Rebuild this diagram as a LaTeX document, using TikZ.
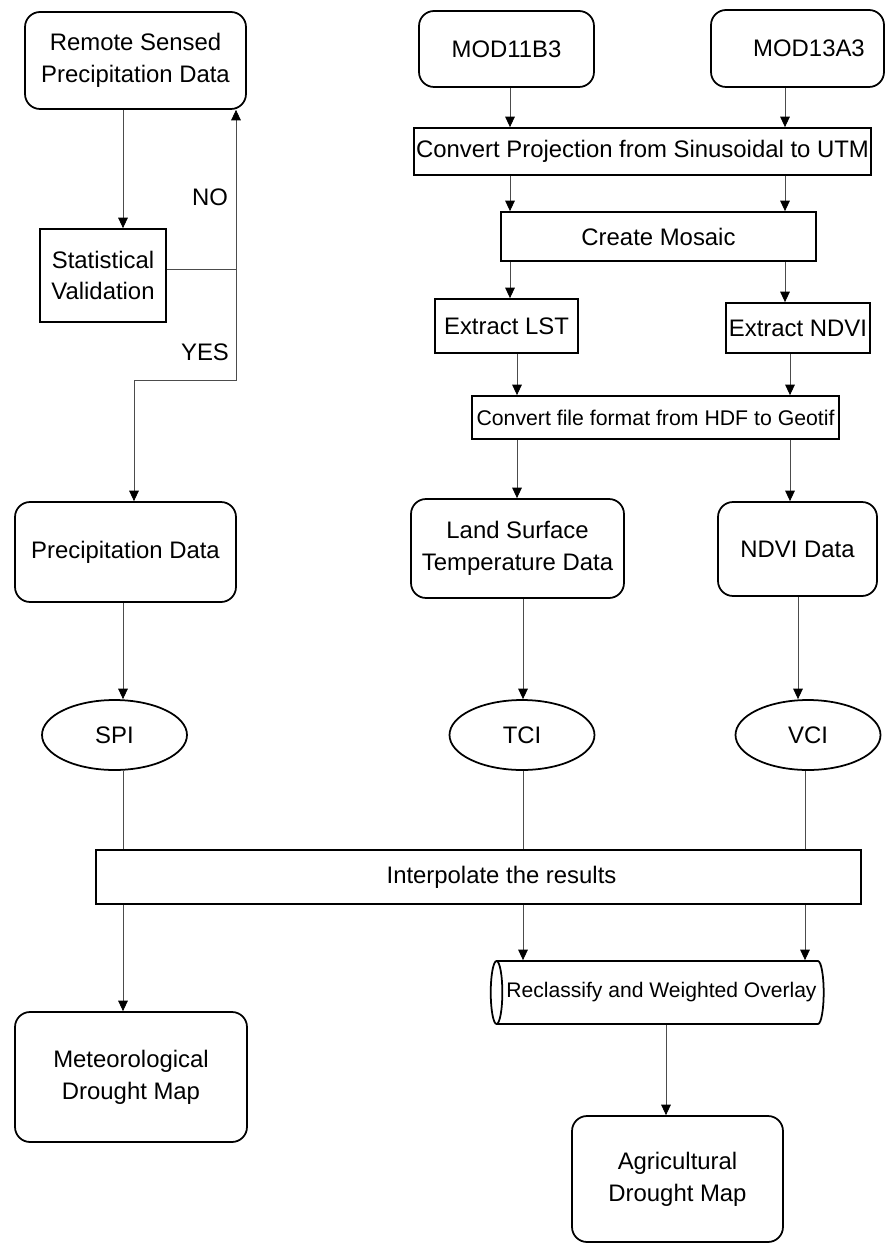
\documentclass[tikz,border=0pt]{standalone}
\usepackage{fontspec}
\setmainfont{Liberation Sans}
\usetikzlibrary{shapes.geometric,arrows.meta}

\begin{document}
\begin{tikzpicture}[x=0.02cm,y=-0.02cm,
    every node/.style={font=\fontsize{13.6}{18}\selectfont, align=center},
    box/.style={draw, line width=1pt, inner sep=1pt},
    rbox/.style={box, rounded corners=0.3cm},
    oval/.style={draw, line width=1pt, ellipse, minimum width=2.9cm, minimum height=1.4cm},
    line/.style={draw=black!70, line width=0.5pt},
    arrow/.style={line, -{Triangle[length=6pt,width=5.5pt,color=black]}}]
    \useasboundingbox (0,0) rectangle (885,1243);
    % Left branch
    \node[rbox, minimum width=4.42cm, minimum height=1.94cm] (remote) at (135.5,60.5) {Remote Sensed\\Precipitation Data};
    \node[box, minimum width=2.52cm, minimum height=1.86cm] (stat) at (103,275.5) {Statistical\\Validation};
    \node[rbox, minimum width=4.42cm, minimum height=2cm] (precip) at (125.5,552) {Precipitation Data};
    \node (no) at (210,197) {NO};
    \node (yes) at (205,352) {YES};
    % MODIS branch
    \node[rbox, minimum width=3.5cm, minimum height=1.52cm] (mod11) at (506.5,49) {MOD11B3};
    \node[rbox, minimum width=3.46cm, minimum height=1.54cm] (mod13) at (797.5,48.5) {\hspace*{0.46cm}MOD13A3};
    \node[box, minimum width=9.14cm, minimum height=0.94cm] (proj) at (642.5,151.5) {Convert Projection from Sinusoidal to UTM};
    \node[box, minimum width=6.3cm, minimum height=0.98cm] (mosaic) at (658.5,236.5) {Create Mosaic};
    \node[box, minimum width=2.86cm, minimum height=1.08cm] (lst) at (506.5,326) {Extract LST};
    \node[box, minimum width=2.88cm, minimum height=1cm] (ndvi) at (798,328) {Extract NDVI};
    \node[box, minimum width=7.34cm, minimum height=0.86cm, font=\fontsize{12.1}{15}\selectfont] (hdf) at (655.5,417.5) {Convert file format from HDF to Geotif};
    \node[rbox, minimum width=4.26cm, minimum height=1.98cm] (landsurf) at (517.5,548.5) {Land Surface\\Temperature Data};
    \node[rbox, minimum width=3.18cm, minimum height=1.88cm] (ndvidata) at (797.5,549) {NDVI Data};
    % Indices
    \node[oval] (spi) at (114.5,735) {SPI};
    \node[oval] (tci) at (522,735) {TCI};
    \node[oval] (vci) at (808,735) {VCI};
    % Results
    \node[box, minimum width=15.3cm, minimum height=1.08cm] (interp) at (478.5,877) {\hspace*{0.92cm}Interpolate the results};
    \node[draw, line width=1pt, cylinder, shape border rotate=180, shape aspect=0.5, minimum width=1.26cm, minimum height=6.66cm, inner sep=1pt, font=\fontsize{12}{15}\selectfont] (reclass) at (661.5,992.5) {Reclassify and Weighted Overlay};
    \node[rbox, minimum width=4.64cm, minimum height=2.6cm] (meteo) at (131,1077) {Meteorological\\Drought Map};
    \node[rbox, minimum width=4.22cm, minimum height=2.52cm] (agri) at (677.5,1179) {Agricultural\\Drought Map};
    % Columns for the connectors
    \coordinate (lcol) at (123,0);
    \coordinate (mA) at (510,0);
    \coordinate (mB) at (517,0);
    \coordinate (mC) at (523,0);
    \coordinate (rA) at (785,0);
    \coordinate (rB) at (790,0);
    \coordinate (rC) at (798,0);
    \coordinate (rD) at (805,0);
    \coordinate (acol) at (666,0);
    \coordinate (turn) at (236,269);
    \coordinate (yesA) at (236,380);
    \coordinate (yesB) at (134,380);
    % Validation loop
    \draw[arrow] (remote.south -| lcol) -- (stat.north -| lcol);
    \draw[line] (stat.east |- turn) -- (turn);
    \draw[arrow] (turn) -- (turn |- remote.south);
    \draw[arrow] (turn) -- (yesA) -- (yesB) -- (yesB |- precip.north);
    \draw[arrow] (precip.south -| lcol) -- (spi.north -| lcol);
    % MODIS processing
    \draw[arrow] (mod11.south -| mA) -- (proj.north -| mA);
    \draw[arrow] (mod13.south -| rA) -- (proj.north -| rA);
    \draw[arrow] (proj.south -| mA) -- (mosaic.north -| mA);
    \draw[arrow] (proj.south -| rA) -- (mosaic.north -| rA);
    \draw[arrow] (mosaic.south -| mA) -- (lst.north -| mA);
    \draw[arrow] (mosaic.south -| rA) -- (ndvi.north -| rA);
    \draw[arrow] (lst.south -| mB) -- (hdf.north -| mB);
    \draw[arrow] (ndvi.south -| rB) -- (hdf.north -| rB);
    \draw[arrow] (hdf.south -| mB) -- (landsurf.north -| mB);
    \draw[arrow] (hdf.south -| rB) -- (ndvidata.north -| rB);
    \draw[arrow] (landsurf.south -| mC) -- (tci.north -| mC);
    \draw[arrow] (ndvidata.south -| rC) -- (vci.north -| rC);
    % Into and out of the interpolation
    \draw[line] (spi.south -| lcol) -- (interp.north -| lcol);
    \draw[line] (tci.south -| mC) -- (interp.north -| mC);
    \draw[line] (vci.south -| rD) -- (interp.north -| rD);
    \draw[arrow] (interp.south -| lcol) -- (meteo.north -| lcol);
    \draw[arrow] (interp.south -| mC) -- (reclass.north -| mC);
    \draw[arrow] (interp.south -| rD) -- (reclass.north -| rD);
    \draw[arrow] (reclass.south -| acol) -- (agri.north -| acol);
\end{tikzpicture}
\end{document}
